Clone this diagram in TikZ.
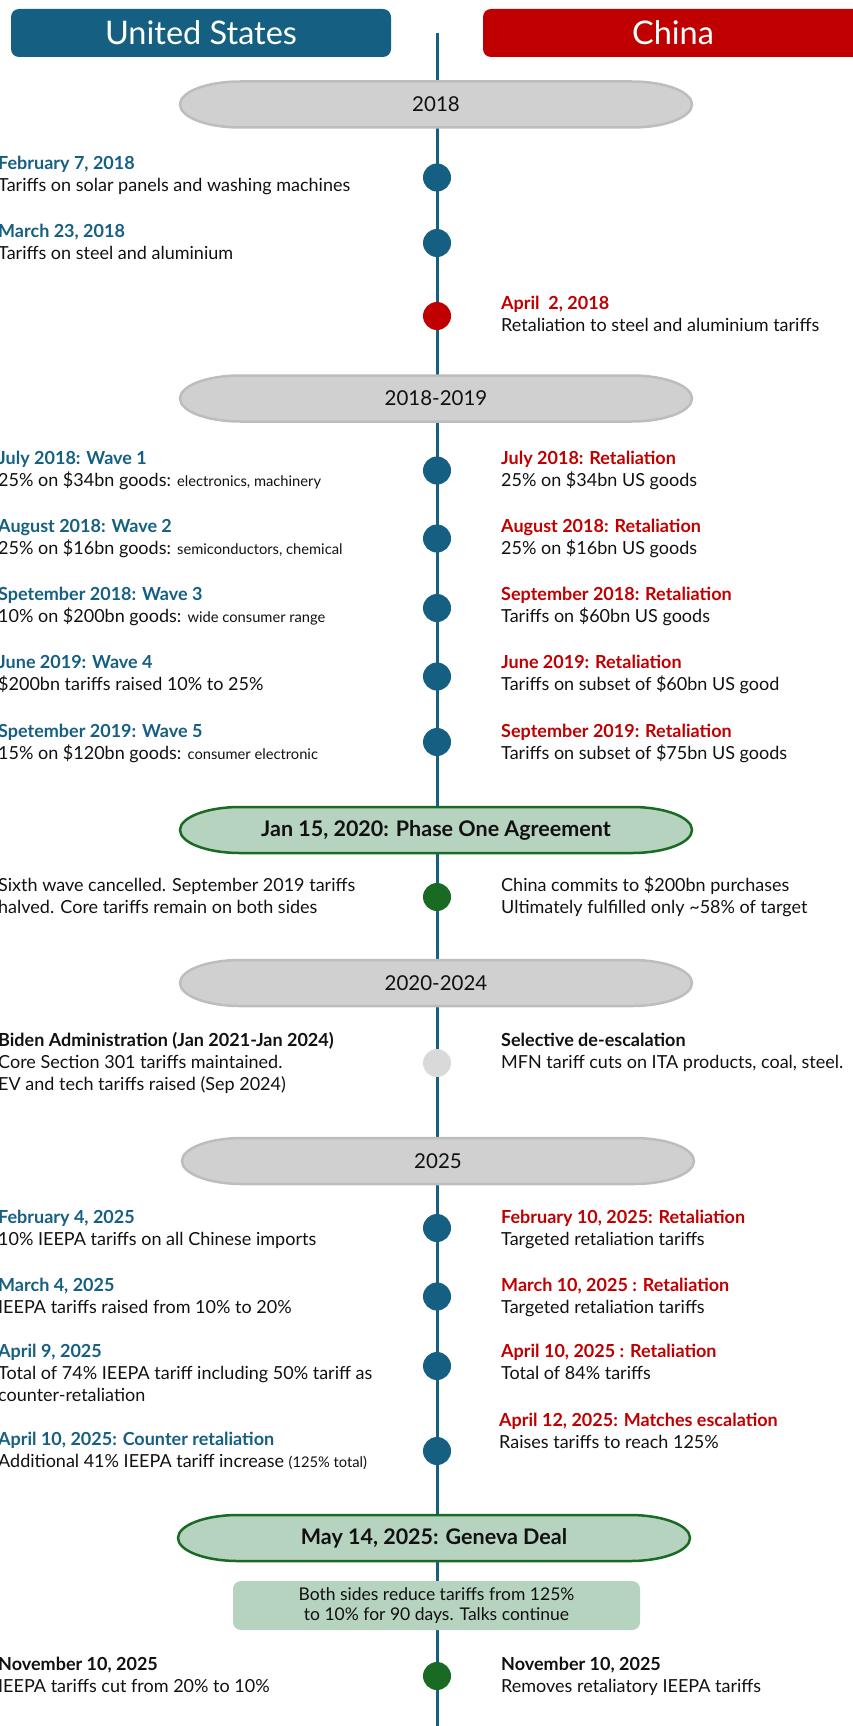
\documentclass[tikz,border=0pt]{standalone}
\usepackage{fontspec}
\setmainfont{Lato}
\definecolor{usblue}{HTML}{156082}
\definecolor{cnred}{HTML}{C00000}
\definecolor{dkgreen}{HTML}{196B24}
\definecolor{ltgreen}{HTML}{B6D3BF}
\definecolor{pillgray}{HTML}{D0D0D0}
\definecolor{pillline}{HTML}{BDBDBD}
\definecolor{dotgray}{HTML}{D9D9D9}
\definecolor{ink}{HTML}{111111}
\newcommand{\evsize}{\fontsize{18}{20}\selectfont}
\newcommand{\smalltxt}[1]{{\fontsize{14.7}{16}\selectfont #1}}
% pill shape: style, x centre, y centre
\newcommand{\pillshape}[3]{\filldraw[#1] (#2-196,#3+23) -- (#2+196,#3+23)
  arc[start angle=90,end angle=-90,x radius=60,y radius=23] -- (#2-196,#3-23)
  arc[start angle=270,end angle=90,x radius=60,y radius=23] -- cycle;}
\tikzset{
  header/.style={rounded corners=8pt, minimum width=380pt, minimum height=48pt,
    inner sep=0pt, text=white, font=\fontsize{32.5}{36}\selectfont},
  timeline/.style={usblue, line width=3pt},
  graypill/.style={fill=pillgray, draw=pillline, line width=2.5pt},
  greenpill/.style={fill=ltgreen, draw=dkgreen, line width=2.5pt},
  pilltext/.style={inner sep=0pt, text=ink, font=\fontsize{20.5}{22}\selectfont},
  dealtext/.style={inner sep=0pt, text=ink, font=\bfseries\fontsize{21.5}{22}\selectfont},
  usdot/.style={circle, fill=usblue, minimum size=28pt, inner sep=0pt},
  cndot/.style={usdot, fill=cnred},
  gndot/.style={usdot, fill=dkgreen},
  grdot/.style={usdot, fill=dotgray},
  body/.style={anchor=base west, inner sep=0pt, text=ink, font=\evsize},
  ustitle/.style={body, text=usblue, font=\bfseries\evsize},
  cntitle/.style={body, text=cnred, font=\bfseries\evsize},
  kytitle/.style={body, font=\bfseries\evsize},
  dealbox/.style={rounded corners=8pt, fill=ltgreen, minimum width=407pt,
    minimum height=49pt, inner sep=0pt, align=center, text=ink,
    font=\fontsize{17.5}{20}\selectfont}
}

\begin{document}
\begin{tikzpicture}[x=1pt, y=1pt]
	\useasboundingbox (0,0) rectangle (853,-1726);
	\node [header, fill=usblue] (us) at (201,-33) {United States};
	\node [header, fill=cnred] (cn) at (673,-33) {China};
	\coordinate (ttop) at (437,-33);
	\coordinate (tbot) at (437,-1726);
	\draw [timeline] (ttop) -- (tbot);
	% period pills
	\pillshape{graypill}{436}{-104.5}
	\pillshape{graypill}{436}{-398.5}
	\pillshape{greenpill}{436}{-830}
	\pillshape{graypill}{436}{-983}
	\pillshape{graypill}{438}{-1161}
	\pillshape{greenpill}{434}{-1538}
	\node [pilltext] (p2018) at (436,-104.5) {2018};
	\node [pilltext] (p2019) at (436,-398.5) {2018-2019};
	\node [dealtext] (pone) at (436,-830) {Jan 15, 2020: Phase One Agreement};
	\node [pilltext] (p2024) at (436,-983) {2020-2024};
	\node [pilltext] (p2025) at (438,-1161) {2025};
	\node [dealtext] (pgen) at (434,-1538) {May 14, 2025: Geneva Deal};
	\node [dealbox] (gbox) at (436.5,-1605.5) {Both sides reduce tariffs from 125\%\\to 10\% for 90 days. Talks continue};
	% dots
	\node [usdot] (d1) at (437,-177.5) {};
	\node [usdot] (d2) at (437,-243) {};
	\node [cndot] (d3) at (437,-316) {};
	\node [usdot] (d4) at (437,-470.5) {};
	\node [usdot] (d5) at (437,-538.5) {};
	\node [usdot] (d6) at (437,-608) {};
	\node [usdot] (d7) at (437,-676.5) {};
	\node [usdot] (d8) at (437,-742) {};
	\node [gndot] (d9) at (437,-897) {};
	\node [grdot] (d10) at (437,-1063) {};
	\node [usdot] (d11) at (437,-1228) {};
	\node [usdot] (d12) at (437,-1296.5) {};
	\node [usdot] (d13) at (437,-1366) {};
	\node [usdot] (d14) at (437,-1451) {};
	\node [gndot] (d15) at (437,-1676) {};
	% 2018
	\node [ustitle] (us1t) at (-2,-169) {February 7, 2018};
	\node [body] (us1b) at (-2,-191) {Tariffs on solar panels and washing machines};
	\node [ustitle] (us2t) at (-2,-237) {March 23, 2018};
	\node [body] (us2b) at (-2,-259) {Tariffs on steel and aluminium};
	\node [cntitle] (cn1t) at (501,-309) {April\ \ 2, 2018};
	\node [body] (cn1b) at (501,-331) {Retaliation to steel and aluminium tariffs};
	% 2018-2019
	\node [ustitle] (us3t) at (-2,-464) {July 2018: Wave 1};
	\node [body] (us3b) at (-2,-486) {25\% on \$34bn goods: \smalltxt{electronics, machinery}};
	\node [cntitle] (cn2t) at (501,-464) {July 2018: Retaliation};
	\node [body] (cn2b) at (501,-486) {25\% on \$34bn US goods};
	\node [ustitle] (us4t) at (-2,-532) {August 2018: Wave 2};
	\node [body] (us4b) at (-2,-554) {25\% on \$16bn goods: \smalltxt{semiconductors, chemical}};
	\node [cntitle] (cn3t) at (501,-532) {August 2018: Retaliation};
	\node [body] (cn3b) at (501,-554) {25\% on \$16bn US goods};
	\node [ustitle] (us5t) at (-2,-600) {Spetember 2018: Wave 3};
	\node [body] (us5b) at (-2,-622) {10\% on \$200bn goods: \smalltxt{wide consumer range}};
	\node [cntitle] (cn4t) at (501,-600) {September 2018: Retaliation};
	\node [body] (cn4b) at (501,-622) {Tariffs on \$60bn US goods};
	\node [ustitle] (us6t) at (-2,-668) {June 2019: Wave 4};
	\node [body] (us6b) at (-2,-690) {\$200bn tariffs raised 10\% to 25\%};
	\node [cntitle] (cn5t) at (501,-668) {June 2019: Retaliation};
	\node [body] (cn5b) at (501,-690) {Tariffs on subset of \$60bn US good};
	\node [ustitle] (us7t) at (-2,-737) {Spetember 2019: Wave 5};
	\node [body] (us7b) at (-2,-759) {15\% on \$120bn goods: \smalltxt{consumer electronic}};
	\node [cntitle] (cn6t) at (501,-737) {September 2019: Retaliation};
	\node [body] (cn6b) at (501,-759) {Tariffs on subset of \$75bn US goods};
	% phase one
	\node [body] (us8a) at (-2,-891) {Sixth wave cancelled. September 2019 tariffs};
	\node [body] (us8b) at (-2,-913) {halved. Core tariffs remain on both sides};
	\node [body] (cn7a) at (501,-891) {China commits to \$200bn purchases};
	\node [body] (cn7b) at (501,-913) {Ultimately fulfilled only \textasciitilde58\% of target};
	% 2020-2024
	\node [kytitle] (us9t) at (-2,-1046) {Biden Administration (Jan 2021-Jan 2024)};
	\node [body] (us9a) at (-2,-1068) {Core Section 301 tariffs maintained.};
	\node [body] (us9b) at (-2,-1090) {EV and tech tariffs raised (Sep 2024)};
	\node [kytitle] (cn8t) at (501,-1046) {Selective de-escalation};
	\node [body] (cn8b) at (501,-1068) {MFN tariff cuts on ITA products, coal, steel.};
	% 2025
	\node [ustitle] (us10t) at (-2,-1223) {February 4, 2025};
	\node [body] (us10b) at (-2,-1245) {10\% IEEPA tariffs on all Chinese imports};
	\node [cntitle] (cn9t) at (501,-1223) {February 10, 2025: Retaliation};
	\node [body] (cn9b) at (501,-1245) {Targeted retaliation tariffs};
	\node [ustitle] (us11t) at (-2,-1291) {March 4, 2025};
	\node [body] (us11b) at (-2,-1313) {IEEPA tariffs raised from 10\% to 20\%};
	\node [cntitle] (cn10t) at (501,-1291) {March 10, 2025 : Retaliation};
	\node [body] (cn10b) at (501,-1313) {Targeted retaliation tariffs};
	\node [ustitle] (us12t) at (-2,-1357) {April 9, 2025};
	\node [body] (us12a) at (-2,-1379) {Total of 74\% IEEPA tariff including 50\% tariff as};
	\node [body] (us12b) at (-2,-1401) {counter-retaliation};
	\node [cntitle] (cn11t) at (501,-1357) {April 10, 2025 : Retaliation};
	\node [body] (cn11b) at (501,-1379) {Total of 84\% tariffs};
	\node [cntitle] (cn12t) at (499,-1426) {April 12, 2025: Matches escalation};
	\node [body] (cn12b) at (499,-1448) {Raises tariffs to reach 125\%};
	\node [ustitle] (us13t) at (-2,-1445) {April 10, 2025: Counter retaliation};
	\node [body] (us13b) at (-2,-1467) {Additional 41\% IEEPA tariff increase \smalltxt{(125\% total)}};
	% geneva
	\node [kytitle] (us14t) at (-2,-1670) {November 10, 2025};
	\node [body] (us14b) at (-2,-1692) {IEEPA tariffs cut from 20\% to 10\%};
	\node [kytitle] (cn13t) at (501,-1670) {November 10, 2025};
	\node [body] (cn13b) at (501,-1692) {Removes retaliatory IEEPA tariffs};
\end{tikzpicture}
\end{document}
